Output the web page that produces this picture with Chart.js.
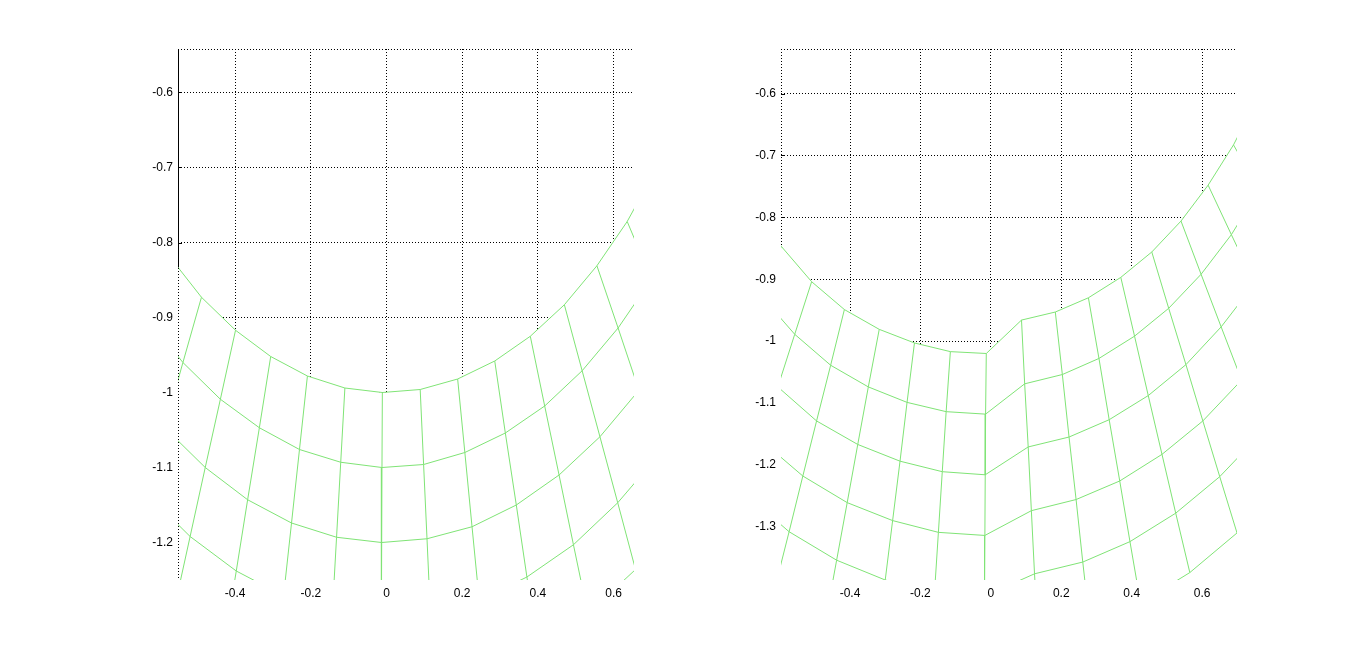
<!DOCTYPE html>
<html>
<head>
<meta charset="utf-8">
<script src="https://cdn.jsdelivr.net/npm/chart.js@4.4.0/dist/chart.umd.min.js"></script>
<style>
  html, body { margin: 0; padding: 0; background: #fff; }
  #wrap { position: relative; width: 1367px; height: 652px; overflow: hidden; }
  canvas { position: absolute; top: 0; }
</style>
</head>
<body>
<div id="wrap">
  <canvas id="left" width="683" height="652" style="left:0"></canvas>
  <canvas id="right" width="684" height="652" style="left:683px"></canvas>
</div>
<script>
// tick labels
const leftXTicks = [-0.4, -0.2, 0, 0.2, 0.4, 0.6];
const leftYTicks = [-1.2, -1.1, -1, -0.9, -0.8, -0.7, -0.6];
const rightXTicks = [-0.4, -0.2, 0, 0.2, 0.4, 0.6];
const rightYTicks = [-1.3, -1.2, -1.1, -1, -0.9, -0.8, -0.7, -0.6];

// left mesh nodes: one row per ring, one column per spoke
const leftX = [
  [-0.573, -0.489, -0.399, -0.306, -0.209, -0.110, -0.011, 0.089, 0.188, 0.286, 0.380, 0.470, 0.556, 0.636, 0.710],
  [-0.631, -0.538, -0.439, -0.336, -0.230, -0.121, -0.012, 0.098, 0.207, 0.314, 0.418, 0.517, 0.612, 0.700, 0.781],
  [-0.688, -0.586, -0.479, -0.367, -0.251, -0.132, -0.013, 0.107, 0.226, 0.343, 0.456, 0.564, 0.667, 0.763, 0.852],
  [-0.745, -0.635, -0.519, -0.397, -0.272, -0.143, -0.014, 0.116, 0.245, 0.371, 0.494, 0.611, 0.723, 0.827, 0.923],
  [-0.803, -0.684, -0.559, -0.428, -0.293, -0.154, -0.015, 0.125, 0.264, 0.400, 0.532, 0.658, 0.778, 0.891, 0.994]
];
const leftY = [
  [-0.819, -0.873, -0.917, -0.952, -0.978, -0.994, -1.000, -0.996, -0.982, -0.958, -0.925, -0.883, -0.831, -0.772, -0.704],
  [-0.901, -0.960, -1.009, -1.047, -1.076, -1.093, -1.100, -1.096, -1.080, -1.054, -1.018, -0.971, -0.914, -0.849, -0.775],
  [-0.983, -1.047, -1.100, -1.143, -1.174, -1.193, -1.200, -1.195, -1.179, -1.150, -1.110, -1.059, -0.997, -0.926, -0.845],
  [-1.065, -1.134, -1.192, -1.238, -1.271, -1.292, -1.300, -1.295, -1.277, -1.246, -1.203, -1.147, -1.081, -1.003, -0.916],
  [-1.147, -1.222, -1.284, -1.333, -1.369, -1.392, -1.400, -1.394, -1.375, -1.342, -1.295, -1.236, -1.164, -1.080, -0.986]
];

// right mesh nodes (right half pulled up past x = 0)
const rightX = [
  [-0.677, -0.595, -0.509, -0.416, -0.317, -0.217, -0.115, -0.013, 0.087, 0.183, 0.277, 0.369, 0.457, 0.540, 0.617, 0.689, 0.754],
  [-0.741, -0.652, -0.557, -0.455, -0.348, -0.238, -0.127, -0.015, 0.096, 0.203, 0.307, 0.408, 0.505, 0.597, 0.683, 0.762, 0.834],
  [-0.805, -0.708, -0.605, -0.495, -0.378, -0.258, -0.138, -0.016, 0.106, 0.222, 0.336, 0.447, 0.554, 0.654, 0.749, 0.835, 0.914],
  [-0.869, -0.765, -0.653, -0.534, -0.408, -0.279, -0.149, -0.017, 0.115, 0.242, 0.366, 0.486, 0.602, 0.712, 0.814, 0.909, 0.994],
  [-0.933, -0.821, -0.701, -0.573, -0.438, -0.300, -0.160, -0.018, 0.124, 0.261, 0.395, 0.525, 0.650, 0.769, 0.880, 0.982, 1.074],
  [-0.998, -0.877, -0.750, -0.613, -0.468, -0.321, -0.171, -0.020, 0.134, 0.281, 0.425, 0.565, 0.699, 0.826, 0.945, 1.055, 1.154]
];
const rightY = [
  [-0.783, -0.847, -0.904, -0.949, -0.981, -1.003, -1.017, -1.020, -0.966, -0.953, -0.930, -0.897, -0.856, -0.806, -0.748, -0.683, -0.611],
  [-0.857, -0.927, -0.989, -1.039, -1.074, -1.099, -1.114, -1.118, -1.069, -1.054, -1.028, -0.992, -0.947, -0.892, -0.828, -0.755, -0.675],
  [-0.931, -1.007, -1.074, -1.129, -1.167, -1.194, -1.211, -1.216, -1.171, -1.155, -1.127, -1.088, -1.038, -0.977, -0.907, -0.828, -0.740],
  [-1.005, -1.087, -1.160, -1.218, -1.261, -1.290, -1.309, -1.314, -1.274, -1.256, -1.226, -1.183, -1.129, -1.063, -0.986, -0.900, -0.805],
  [-1.079, -1.167, -1.245, -1.308, -1.354, -1.386, -1.406, -1.412, -1.376, -1.357, -1.324, -1.278, -1.219, -1.148, -1.066, -0.973, -0.870],
  [-1.154, -1.248, -1.331, -1.398, -1.447, -1.482, -1.503, -1.510, -1.479, -1.458, -1.423, -1.374, -1.310, -1.234, -1.145, -1.045, -0.935]
];

const meshColor = 'rgb(128,228,118)';
const dots = [1, 2];

function meshDatasets(X, Y) {
    const sets = [];
    // rings
    X.forEach((row, i) => {
        sets.push({
            data: row.map((x, k) => ({ x: x, y: Y[i][k] })),
            borderColor: meshColor,
            borderWidth: 1,
            backgroundColor: '#fff',
            fill: i === 0 ? 'start' : false,
            showLine: true,
            pointRadius: 0
        });
    });
    // spokes
    X[0].forEach((_, k) => {
        sets.push({
            data: X.map((row, i) => ({ x: row[k], y: Y[i][k] })),
            borderColor: meshColor,
            borderWidth: 1,
            fill: false,
            showLine: true,
            pointRadius: 0
        });
    });
    return sets;
}

function line(ctx, x1, y1, x2, y2) {
    ctx.beginPath();
    ctx.moveTo(x1, y1);
    ctx.lineTo(x2, y2);
    ctx.stroke();
}

// box edges and inward ticks, drawn before the grid so the mesh covers them
const framePlugin = {
    id: 'frame',
    beforeDraw(chart, args, opts) {
        const ctx = chart.ctx;
        const a = chart.chartArea;
        const y = chart.scales.y;
        const lx = Math.round(a.left) + 0.5;
        ctx.save();
        ctx.strokeStyle = '#000';
        ctx.lineWidth = 1;
        ctx.setLineDash(dots);
        line(ctx, a.left, Math.round(a.top) + 0.5, a.right, Math.round(a.top) + 0.5);
        if (opts.solidLeft) ctx.setLineDash([]);
        line(ctx, lx, a.top, lx, a.bottom);
        ctx.setLineDash([]);
        y.ticks.forEach(t => {
            const py = Math.round(y.getPixelForValue(t.value)) + 0.5;
            line(ctx, a.left, py, a.left + 4, py);
        });
        ctx.restore();
    },
    afterDatasetsDraw(chart, args, opts) {
        if (!opts.dottedLeftOnTop) return;
        const ctx = chart.ctx;
        const a = chart.chartArea;
        const lx = Math.round(a.left) + 0.5;
        ctx.save();
        ctx.strokeStyle = '#000';
        ctx.lineWidth = 1;
        ctx.setLineDash(dots);
        line(ctx, lx, a.top, lx, a.bottom);
        ctx.restore();
    }
};

function makeChart(id, X, Y, xTicks, yTicks, xMin, xMax, yMin, yMax, pad, frameOpts) {
    const tickFont = { family: 'Liberation Sans, Arial, sans-serif', size: 12 };
    return new Chart(document.getElementById(id), {
        type: 'scatter',
        data: { datasets: meshDatasets(X, Y) },
        options: {
            responsive: false,
            animation: false,
            events: [],
            layout: { padding: pad },
            plugins: {
                legend: { display: false },
                tooltip: { enabled: false },
                filler: { drawTime: 'beforeDatasetsDraw' },
                frame: frameOpts
            },
            scales: {
                x: {
                    type: 'linear',
                    min: xMin,
                    max: xMax,
                    afterBuildTicks: s => { s.ticks = xTicks.map(v => ({ value: v })); },
                    afterFit: s => { s.height = 30; },
                    grid: { color: '#000', lineWidth: 1, drawTicks: false },
                    border: { display: false, dash: dots },
                    ticks: {
                        color: '#000',
                        font: tickFont,
                        padding: 6,
                        maxRotation: 0,
                        callback: v => String(+v.toFixed(2))
                    }
                },
                y: {
                    type: 'linear',
                    min: yMin,
                    max: yMax,
                    afterBuildTicks: s => { s.ticks = yTicks.map(v => ({ value: v })); },
                    afterFit: s => { s.width = 40; },
                    grid: { color: '#000', lineWidth: 1, drawTicks: false },
                    border: { display: false, dash: dots },
                    ticks: {
                        color: '#000',
                        font: tickFont,
                        padding: 5,
                        callback: v => String(+v.toFixed(2))
                    }
                }
            }
        },
        plugins: [framePlugin]
    });
}

makeChart('left', leftX, leftY, leftXTicks, leftYTicks, -0.551, 0.654, -1.25, -0.542,
    { left: 138, right: 49, top: 49, bottom: 42 },
    { solidLeft: true, dottedLeftOnTop: true });

makeChart('right', rightX, rightY, rightXTicks, rightYTicks, -0.596, 0.699, -1.386, -0.528,
    { left: 58, right: 130, top: 49, bottom: 42 },
    { solidLeft: false, dottedLeftOnTop: false });
</script>
</body>
</html>
